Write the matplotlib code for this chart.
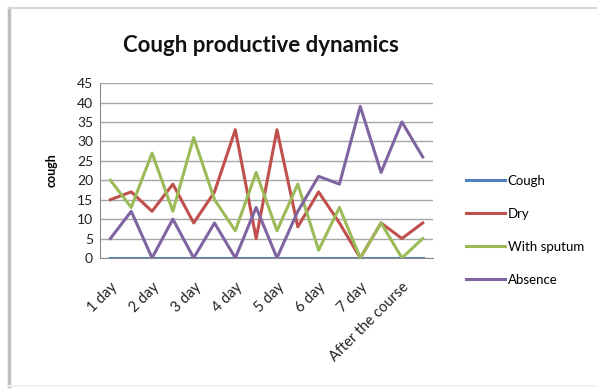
import matplotlib
matplotlib.use("Agg")
import matplotlib.pyplot as plt
from matplotlib.lines import Line2D

# 16 observations, labels only on every other one
day_labels = ["1 day", "2 day", "3 day", "4 day", "5 day", "6 day", "7 day", "After the course"]
cough = [0, 0, 0, 0, 0, 0, 0, 0, 0, 0, 0, 0, 0, 0, 0, 0]
dry = [15, 17, 12, 19, 9, 17, 33, 5, 33, 8, 17, 9, 0, 9, 5, 9]
with_sputum = [20, 13, 27, 12, 31, 15, 7, 22, 7, 19, 2, 13, 0, 9, 0, 5]
absence = [5, 12, 0, 10, 0, 9, 0, 13, 0, 12, 21, 19, 39, 22, 35, 26]

SERIES = (("Cough", cough, "#4F81BD"), ("Dry", dry, "#C0504D"),
          ("With sputum", with_sputum, "#9BBB59"), ("Absence", absence, "#8064A2"))

plt.rcParams["font.family"] = ["Lato", "DejaVu Sans"]

fig = plt.figure(figsize=(5.97, 3.92), dpi=100)
ax = fig.add_axes([0.1675, 0.342, 0.558, 0.446])

x = list(range(len(dry)))
for name, values, color in SERIES:
    ax.plot(x, values, color=color, linewidth=2.2, label=name)

ax.set_xlim(-0.5, len(x) - 0.5)
ax.set_ylim(0, 45)
ax.set_yticks(range(0, 46, 5))
ax.set_xticks(x[::2], day_labels, rotation=45, ha="right", va="top", rotation_mode="anchor")
ax.tick_params(axis="both", length=0, labelsize=10, colors="#222222", pad=5)
ax.tick_params(axis="x", pad=16, labelsize=10.5)
ax.grid(axis="y", color="#A6A6A6", linewidth=1)
ax.set_axisbelow(True)
for side in ("top", "right"):
    ax.spines[side].set_visible(False)
for side in ("left", "bottom"):
    ax.spines[side].set_color("#8C8C8C")

ax.set_ylabel("cough", fontsize=9, fontweight="bold", labelpad=14)
fig.text(0.437, 0.885, "Cough productive dynamics", ha="center", va="center",
         fontsize=16, fontweight="bold", color="#111111")

handles = [Line2D([], [], color=c, linewidth=2.2) for _, _, c in SERIES]
fig.legend(handles, [n for n, _, _ in SERIES], loc="upper left", bbox_to_anchor=(0.76, 0.585),
           frameon=False, fontsize=9.5, handlelength=3.0, labelspacing=1.6, handletextpad=0.2)

# chart frame edges
fig.add_artist(Line2D([0.015, 0.015], [0.015, 0.98], color="#BFBFBF", linewidth=2.5, transform=fig.transFigure))
fig.add_artist(Line2D([0.015, 1.0], [0.98, 0.98], color="#D9D9D9", linewidth=1.5, transform=fig.transFigure))
fig.add_artist(Line2D([0.015, 1.0], [0.015, 0.015], color="#F0F0F0", linewidth=1.5, transform=fig.transFigure))

fig.savefig("out.png", dpi=100)
